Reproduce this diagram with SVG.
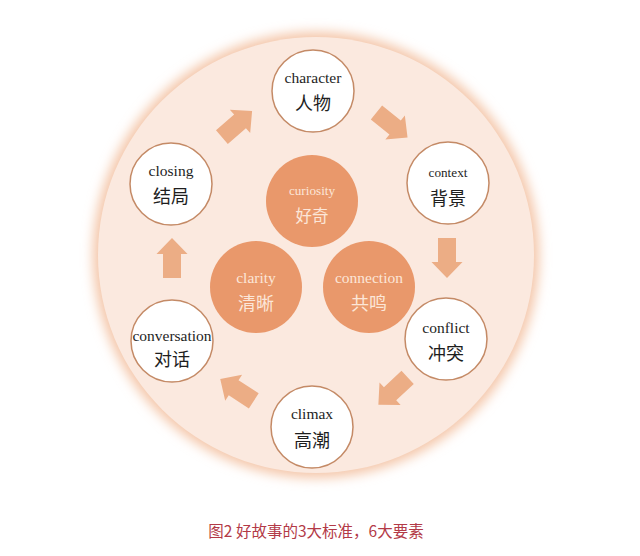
<svg xmlns="http://www.w3.org/2000/svg" width="640" height="556" viewBox="0 0 640 556">
<defs>
<filter id="glow" x="-20%" y="-20%" width="140%" height="140%"><feGaussianBlur stdDeviation="6"/></filter>
<path id="arw" d="M-20,-9 L4,-9 L4,-15.5 L20,0 L4,15.5 L4,9 L-20,9 Z"/>
</defs>
<style>
.node circle{fill:#ffffff;stroke:#C48A66;stroke-width:1.5}
.core circle{fill:#E9986B}
.en{font-family:"Liberation Serif","Times New Roman",serif;fill:#1e1e1e;text-anchor:middle;font-size:15.5px}
.zh{font-family:"Noto Sans CJK SC",sans-serif;fill:#1e1e1e;text-anchor:middle;font-size:18px}
.core .en,.core .zh{fill:#FCE6D8}
.arrow{fill:#ECAD85}
.cap{font-family:"Noto Sans CJK SC","Liberation Sans",sans-serif;fill:#B33A47;font-size:15.5px;text-anchor:middle}
</style>
<rect width="640" height="556" fill="#ffffff"/>
<g id="background">
<circle cx="316" cy="255" r="223" fill="#F4C6A9" filter="url(#glow)"/>
<circle cx="316" cy="255" r="218" fill="#FBE9DF"/>
</g>
<g id="connectors">
<use href="#arw" class="arrow" transform="translate(237,124) rotate(-41)"/>
<use href="#arw" class="arrow" transform="translate(392,125) rotate(39)"/>
<use href="#arw" class="arrow" transform="translate(447,258) rotate(90)"/>
<use href="#arw" class="arrow" transform="translate(393,391) rotate(137)"/>
<use href="#arw" class="arrow" transform="translate(237,390) rotate(-147)"/>
<use href="#arw" class="arrow" transform="translate(172,258) rotate(-90)"/>
</g>
<g id="character" class="node"><circle cx="313" cy="91" r="41"/><text class="en" x="313" y="83">character</text><text class="zh" x="313" y="110">人物</text></g>
<g id="context" class="node"><circle cx="448" cy="183" r="41"/><text class="en" x="448" y="177" style="font-size:13.2px">context</text><text class="zh" x="448" y="205">背景</text></g>
<g id="conflict" class="node"><circle cx="446" cy="339" r="41"/><text class="en" x="446" y="333">conflict</text><text class="zh" x="446" y="360">冲突</text></g>
<g id="climax" class="node"><circle cx="312" cy="427" r="41"/><text class="en" x="312" y="419">climax</text><text class="zh" x="312" y="447">高潮</text></g>
<g id="conversation" class="node"><circle cx="172" cy="341" r="41"/><text class="en" x="172" y="341">conversation</text><text class="zh" x="172" y="366">对话</text></g>
<g id="closing" class="node"><circle cx="171" cy="184" r="41"/><text class="en" x="171" y="176">closing</text><text class="zh" x="171" y="203">结局</text></g>
<g id="curiosity" class="core"><circle cx="312" cy="201" r="46"/><text class="en" x="312" y="195" style="font-size:13.2px">curiosity</text><text class="zh" x="312" y="222" style="font-size:16.5px">好奇</text></g>
<g id="clarity" class="core"><circle cx="256" cy="287" r="46"/><text class="en" x="256" y="283">clarity</text><text class="zh" x="256" y="310">清晰</text></g>
<g id="connection" class="core"><circle cx="369" cy="287" r="46"/><text class="en" x="369" y="283">connection</text><text class="zh" x="369" y="310">共鸣</text></g>
<text class="cap" x="316" y="537">图2 好故事的3大标准，6大要素</text>
</svg>
